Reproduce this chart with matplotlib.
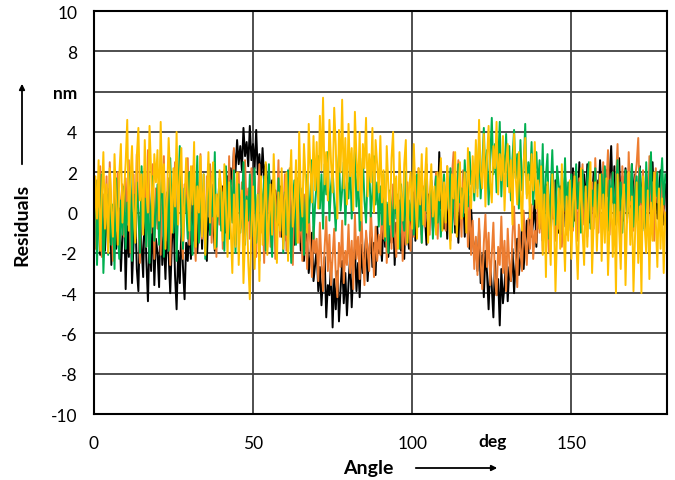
import numpy as np
from matplotlib import pyplot as plt

# residuals, one value every 0.5 deg (0 .. 179.5)
black = [
    -0.5, 0.8, -1.2, 0.3, -2.1, 0.9, -0.8, -1.9, 0.4, -1.5, 1.0, -2.6, -0.3, 0.6, -1.8, -0.9, 0.2, -2.9, -1.1, 0.5,
    -3.8, -0.6, -2.2, 0.7, -3.5, -1.4, 0.3, -2.8, -3.9, -0.2, -1.7, -3.2, 0.9, -2.4, -4.4, -1.0, -2.9, 0.1, -3.6, -1.3,
    -2.0, -3.7, 0.4, -2.6, -1.2, -3.3, -0.5, -2.1, -4.0, -1.6, 0.2, -3.1, -4.8, -1.9, -3.5, -0.8, -2.7, -4.3, -1.5, -2.4,
    -0.6, -2.3, 0.8, -1.4, 1.2, -2.0, -0.3, 0.5, -1.8, 1.1, -0.9, -2.4, 0.3, -1.1, 1.4, -0.4, -1.9, 0.7, -0.2, 1.0,
    -0.5, 1.3, 0.2, -1.0, 1.8, 0.6, 2.2, 1.4, 3.1, 2.0, 3.6, 2.4, 3.3, 2.1, 4.2, 2.8, 3.5, 2.3, 4.3, 2.6,
    3.4, 2.2, 4.1, 1.9, 2.9, 1.5, 3.2, 1.7, 2.4, 1.0, 2.0, 0.5, 1.6, -0.3, 1.1, 0.4, -0.6, 1.3, -1.2, 0.2,
    0.9, -1.4, 0.3, 1.2, -0.8, 0.6, -1.6, 0.1, -0.5, 1.0, -1.9, -0.2, -2.4, -0.9, -1.5, -3.0, -2.1, -1.0, -3.4, -2.6,
    -1.8, -3.9, -2.7, -4.6, -3.1, -2.2, -5.2, -3.6, -4.1, -2.5, -5.7, -3.3, -4.8, -2.9, -5.4, -3.8, -2.4, -4.5, -3.0, -5.1,
    -3.5, -2.2, -4.7, -2.8, -1.7, -3.9, -2.5, -4.2, -1.6, -3.0, -2.3, -1.2, -3.4, -2.0, -0.9, -2.7, -1.5, -3.1, -0.7, -2.0,
    -1.2, -2.4, -0.3, -1.7, 0.4, -2.2, -0.8, -1.5, 0.2, -2.6, -0.5, -1.3, 0.6, -1.9, -0.2, -2.3, 0.3, -1.0, -1.8, 0.1,
    -0.7, 1.0, -1.4, 0.4, -0.3, 1.3, -1.1, 0.6, -0.2, -1.6, 0.9, -0.5, 1.5, -0.9, 0.3, 2.0, -0.4, 3.0, 0.2, 1.1,
    -0.8, 0.7, -1.3, 1.2, 0.1, -0.6, 1.4, -1.0, 0.5, -1.5, 0.8, -0.2, 1.1, -1.2, 0.3, -0.7, -1.8, 0.2, -1.1, -2.2,
    -1.4, -2.9, -0.8, -3.5, -2.1, -4.2, -1.9, -3.0, -4.8, -2.6, -3.7, -5.2, -2.4, -4.1, -3.3, -5.6, -2.8, -4.5, -3.6, -2.2,
    -4.4, -2.7, -3.4, -1.8, -4.0, -2.5, -1.3, -3.1, -2.2, -0.6, -2.8, -1.5, -0.4, -2.0, 0.3, -1.2, -0.5, 0.6, -1.7, 0.2,
    -0.8, 1.1, -1.4, 0.5, 1.4, -0.6, 0.2, -1.2, 1.0, -0.3, 1.6, 0.0, -1.0, 1.3, 0.4, -0.7, 1.8, 0.1, -0.9, 1.2,
    0.6, 2.2, -0.4, 1.5, 0.3, 2.5, -0.8, 1.1, 1.9, 0.2, 2.4, -0.5, 1.3, 0.7, 2.0, -0.2, 1.6, 0.4, 2.6, 0.9,
    1.4, -0.3, 2.1, 0.8, 1.7, 3.3, 0.5, 2.3, -0.6, 1.2, 2.7, 0.1, 1.8, -0.4, 2.2, 0.9, 1.5, -0.7, 2.4, 0.6,
    1.9, -0.2, 1.1, 2.3, 0.4, 1.6, -0.8, 2.0, 0.7, 1.3, -0.5, 2.5, 0.2, 1.8, -0.3, 1.0, 2.1, 0.5, -0.6, 1.4,
]
orange = [
    0.4, -1.8, 1.6, -0.7, 2.3, -2.2, 0.9, -0.3, 1.8, -1.5, 2.5, 0.2, -2.4, 1.1, -0.9, 2.0, -1.9, 0.6, 1.4, -1.2,
    1.7, -0.6, 2.6, -2.0, 0.8, 1.9, -1.3, 2.9, 0.1, -2.5, 1.5, -0.4, 2.2, -1.7, 3.1, 0.5, -1.0, 2.4, -2.3, 1.2,
    -0.8, 2.1, -2.1, 0.9, 2.8, -1.4, 0.3, 1.7, -2.6, 1.0, -0.5, 2.5, -1.9, 0.6, 1.9, -1.1, -2.3, 1.4, 0.0, 2.7,
    -1.6, 0.8, 2.3, -0.9, -2.4, 1.5, 0.2, 2.9, -1.3, 0.7, -2.0, 1.8, -0.2, 2.4, -1.5, 0.4, 1.6, -2.2, 0.9, -0.6,
    1.3, -1.8, 2.1, 0.3, -1.1, 2.8, -0.4, 1.0, 3.2, -1.6, 0.6, 2.0, -0.8, 1.5, -2.0, 2.6, 0.1, 1.2, -1.3, 2.2,
    -0.3, 1.8, -2.2, 0.7, 2.4, -1.0, 0.2, -2.5, 1.3, -0.6, 2.1, -1.7, 0.5, 1.6, -2.3, 0.0, 2.6, -1.2, 0.9, -0.4,
    1.9, -1.9, 0.6, 2.2, -0.9, -2.6, 1.1, -0.2, 1.7, -1.5, 0.4, -2.4, 0.9, -1.1, -2.8, 0.2, -1.6, -3.2, -0.7, -2.0,
    -1.3, -3.4, -0.5, -2.5, -3.9, -1.7, -0.2, -2.9, -1.1, -3.6, -2.2, -0.8, -3.1, -4.2, -1.5, -2.7, -0.4, -3.5, -1.9, -2.6,
    -0.6, -3.0, -1.4, -3.8, -0.1, -2.3, -1.2, -3.3, 0.3, -2.0, -3.6, -0.9, -1.8, -2.9, 0.2, -1.5, -3.2, -0.7, -2.4, -1.1,
    -2.1, 0.4, -1.3, 1.2, -2.5, -0.5, 0.8, -1.8, 1.4, -0.9, -2.2, 0.6, -1.0, 1.1, -2.4, 0.1, -1.6, 1.5, -0.4, -1.9,
    0.9, -1.2, 1.8, -0.3, 2.2, 0.4, -1.5, 1.3, -0.7, 2.4, 0.1, -1.1, 1.6, 0.7, -0.5, 2.0, -1.3, 1.0, 2.5, -0.2,
    1.4, -0.9, 2.3, 0.2, -1.4, 1.9, 3.0, -0.6, 1.2, 2.6, 0.5, -1.2, 2.1, 0.0, 1.5, -1.7, 0.8, -2.1, -0.4, -2.8,
    -1.2, -3.1, -0.3, -2.4, -3.8, -1.5, -0.1, -2.7, -1.0, -3.6, -2.0, -0.5, -3.3, -4.1, -1.7, -2.6, -0.2, -3.0, -1.4, -3.9,
    -0.8, -2.5, -3.4, -1.1, 0.3, -2.2, -3.7, -0.6, -1.9, -2.9, 0.1, -1.4, -2.6, -0.3, -1.8, 0.4, -2.3, -0.9, -1.5, 0.6,
    -1.0, 0.8, -1.9, 0.2, 1.3, -0.7, -2.0, 0.9, -0.3, 1.5, -1.4, 0.4, -0.8, 1.1, -1.7, 0.0, 1.4, -1.1, 0.6, -0.5,
    1.2, -0.9, 2.0, 0.3, -1.4, 1.7, 0.5, 2.4, -0.6, 1.0, -1.2, 2.2, 0.1, 1.5, -0.8, 2.7, 0.6, -1.0, 1.8, 0.2,
    2.5, -0.4, 1.3, 3.1, -1.1, 0.8, 2.0, -0.7, 1.6, 3.4, 0.2, -1.3, 2.3, 0.9, 1.9, -0.5, 3.0, 0.4, 1.2, -0.9,
    1.7, 2.4, 3.7, 0.3, -1.0, 2.1, 0.7, 1.4, -0.6, 2.8, 0.0, 1.5, -1.4, 2.2, 0.5, 1.1, -0.8, 1.9, 0.2, -0.3,
]
green = [
    -0.5, 1.6, -2.6, 0.2, -1.3, 1.9, -3.0, -0.7, 0.9, -2.1, 1.2, -1.6, 0.4, -2.8, 1.7, -0.9, -2.3, 0.6, -1.1, 1.3,
    -1.8, 0.5, -0.6, 2.0, -2.4, 0.9, -1.2, 1.5, -0.1, -2.0, 2.3, -0.8, 0.7, -1.7, 1.1, -2.5, 0.3, 1.8, -1.4, 0.0,
    1.4, -1.6, 0.6, 2.2, -2.2, -0.3, 1.0, -1.9, 2.7, 0.1, -1.0, 1.6, -2.4, 0.8, 3.3, -0.7, -1.8, 1.2, 0.3, -1.3,
    2.0, -0.4, -2.1, 1.5, 0.4, 2.8, -1.5, 0.9, -0.6, 1.9, -2.3, 0.2, 2.4, -1.1, 1.3, -0.2, 3.0, -1.7, 0.5, 1.7,
    -0.9, 1.0, -1.9, 2.3, 0.0, -1.3, 1.6, -0.5, 2.1, -2.0, 0.7, 1.4, -1.0, 0.3, 2.5, -1.6, 0.8, -0.4, 1.9, -1.2,
    0.4, 2.2, -1.5, 0.9, -2.4, 1.3, -0.1, 1.8, -1.9, 0.6, 2.4, -0.8, -2.2, 1.1, 0.2, -1.4, 1.7, -0.6, 0.8, -2.0,
    1.0, -1.1, 2.1, -0.3, -2.5, 0.7, 1.6, -1.6, 0.3, 2.3, -0.9, 1.2, -2.1, 0.5, 1.9, -0.5, 0.9, 2.6, -1.3, 0.4,
    1.5, 2.8, 0.2, 1.9, -0.8, 2.4, 0.9, 3.0, -0.4, 1.3, 2.2, 0.5, -0.9, 1.8, 2.9, 0.1, 1.1, 2.5, -0.6, 1.6,
    0.7, 2.6, -0.3, 1.4, 3.1, 0.3, 2.0, -0.9, 1.2, 2.7, 0.6, -0.5, 1.9, 2.4, -0.2, 1.0, 2.8, 0.4, 1.5, -0.7,
    1.3, -0.6, 1.9, -1.4, 0.5, -2.0, 1.1, 0.2, -1.2, 1.7, -0.3, 0.9, -1.8, 1.4, 0.0, -0.9, 2.0, -1.5, 0.6, -0.4,
    1.5, -1.1, 0.4, 1.9, -0.7, 0.8, -1.5, 1.2, 0.1, 2.0, -0.9, 0.6, 1.6, -1.3, 0.3, 1.8, -0.5, 1.0, -1.2, 0.7,
    1.9, -0.4, 1.3, 0.2, 2.2, -1.0, 0.9, 1.6, -0.6, 2.4, 0.5, 1.2, -0.2, 2.6, 1.0, 0.3, 3.0, 1.4, 2.1, 0.6,
    2.8, 1.2, 3.6, 0.7, 2.3, 4.2, 1.5, 3.1, 0.4, 2.6, 4.7, 1.9, 3.4, 1.0, 2.5, 4.5, 0.8, 3.0, 2.0, 3.9,
    1.3, 3.3, 0.6, 2.7, 4.1, 1.7, 2.9, 0.2, 3.6, 1.1, 2.2, 4.4, 0.9, 2.5, 1.6, 3.5, 0.4, 2.0, 3.0, 1.2,
    2.6, 0.3, 3.4, -0.8, 1.8, 2.9, -1.3, 1.0, 3.1, 0.5, -0.6, 2.3, 1.4, -1.1, 2.0, 0.1, 2.7, -0.4, 1.5, 0.8,
    1.9, -0.7, 0.9, 2.4, 0.2, 1.5, -1.0, 2.1, 0.6, -0.3, 1.7, 2.5, -0.8, 1.1, 0.3, 2.2, -0.5, 1.4, 0.7, 1.9,
    -0.2, 2.3, 1.0, -0.9, 1.6, 0.4, 2.0, -0.6, 1.2, 2.6, 0.1, 1.5, -1.0, 0.8, 2.1, -0.3, 1.3, 0.6, 2.4, -0.7,
    1.1, 1.8, -0.4, 2.2, 0.5, 1.4, -0.9, 2.5, 0.2, 1.0, 3.0, -0.5, 1.6, 0.8, 2.0, -0.2, 1.3, 2.7, 0.4, 1.9,
]
yellow = [
    -1.4, 1.8, -0.3, 2.6, -1.9, 0.7, 3.0, -0.8, 1.4, -2.0, 2.2, 0.1, -1.2, 2.9, 0.5, -1.6, 1.9, 3.4, -0.5, 1.0,
    2.5, 4.6, -0.9, 1.7, 3.3, 0.2, -1.5, 2.8, 4.2, 0.6, 1.9, -1.1, 3.6, 1.2, 0.0, 4.3, 2.0, -0.7, 2.9, 1.5,
    3.1, -0.4, 4.5, 1.0, 2.4, -1.8, 0.8, 3.7, 1.6, -1.0, 2.2, 0.3, 4.0, -0.6, 1.8, 3.2, -1.4, 0.5, 2.7, 1.1,
    -0.9, 2.3, 0.4, 3.5, -1.7, 1.3, 0.0, 2.8, -1.2, 1.9, -2.1, 0.7, 3.0, -0.5, 1.6, 2.5, -1.8, 0.9, -0.2, 2.1,
    1.2, -1.4, 2.4, 0.3, -2.2, 1.5, -0.8, -3.0, 0.9, -1.7, 2.0, -2.6, -0.4, 1.1, -3.5, -1.2, 0.6, -2.4, -4.3, -0.7,
    1.3, -2.8, -0.5, 0.9, -3.4, 1.8, -1.6, 0.2, 2.5, -2.1, -0.3, 1.4, -1.1, 2.9, 0.4, -2.5, 1.0, -0.9, 2.2, -1.8,
    0.6, 2.0, -2.4, 1.2, 3.1, -0.7, 0.3, 2.6, -1.5, 4.0, 1.0, -0.2, 3.4, 1.7, -1.0, 4.4, 2.2, 0.5, 3.8, 1.1,
    3.5, 0.2, 4.8, 2.1, 5.7, 1.4, 3.0, 0.6, 4.6, 2.5, 1.0, 5.2, 3.3, -0.3, 4.1, 2.0, 5.6, 1.2, 3.7, 0.4,
    4.4, 1.8, 3.2, 0.1, 5.0, 2.7, 1.1, 4.0, -0.4, 3.4, 2.2, 4.7, 0.8, 2.9, 1.5, 4.2, 0.0, 3.6, 2.4, 1.0,
    3.8, 0.5, 2.1, -1.2, 3.3, 1.4, -0.6, 2.7, 4.0, 0.2, 1.8, -1.8, 3.0, 0.9, -0.4, 2.4, 3.6, -1.5, 1.2, 2.0,
    -0.8, 3.4, 1.0, -1.3, 2.2, 0.4, 2.9, -0.6, 1.6, 3.2, -1.5, 0.8, 2.4, -0.2, 1.3, -1.1, 2.0, 0.6, 2.7, -0.9,
    1.5, -0.5, 2.3, 0.1, -1.8, 1.9, 0.7, 3.0, -1.2, 1.1, 2.5, -0.3, 0.9, 2.0, -1.0, 3.2, 1.4, 0.2, 2.8, 1.0,
    3.6, 0.8, 4.6, 2.0, 1.2, 3.9, 0.3, 2.7, 4.3, 1.5, 0.5, 3.3, 2.2, 4.5, 0.9, 2.9, 1.6, 3.8, 0.1, 2.4,
    3.4, 1.0, 2.6, -0.6, 3.9, 1.8, 0.4, 3.0, 1.3, -0.9, 2.5, 3.7, 0.7, 1.9, -0.3, 2.9, 1.1, 3.5, 0.2, 1.6,
    -0.8, 2.3, -2.1, 0.9, -3.2, 1.5, -0.4, -2.6, 1.9, 0.2, -3.9, -1.0, 1.2, -1.8, 2.4, -0.6, -2.9, 0.8, -1.4, 1.6,
    -2.3, 0.5, 1.8, -1.2, -3.3, 0.0, 2.2, -0.9, -2.6, 1.3, -1.7, 0.7, 2.5, -3.0, -0.4, 1.5, -1.9, 0.3, 1.9, -2.4,
    0.9, -1.5, 1.7, -3.1, -0.6, 1.2, -2.2, 0.4, -4.0, 1.9, -0.9, -2.8, 0.6, 1.4, -3.6, -0.2, 2.0, -1.6, 0.8, -3.9,
    -1.1, 1.5, -2.5, 0.3, -4.0, 1.8, -0.7, -2.0, 1.1, -3.3, 0.5, -1.4, 2.0, -0.3, -2.7, 1.2, -1.8, 0.7, -3.0, 0.0,
]
angle = np.arange(len(black)) * 0.5

series = [(black, '#000000'), (orange, '#ED7D31'), (green, '#00B050'), (yellow, '#FFC000')]

plt.rcParams['font.family'] = ['Lato', 'DejaVu Sans']

fig = plt.figure(figsize=(6.75, 4.81), dpi=100)
ax = fig.add_axes([0.139, 0.137, 0.849, 0.838])

for vals, col in series:
    ax.plot(angle, vals, color=col, lw=1.4, zorder=3)

ax.set_xlim(0, 180)
ax.set_ylim(-10, 10)
ax.set_xticks([0, 50, 100, 150])
ax.set_yticks(np.arange(-10, 11, 2))
ylabels = [str(v) for v in range(-10, 11, 2)]
ylabels[8] = 'nm'
ax.set_yticklabels(ylabels)
ax.get_yticklabels()[8].set_fontweight('bold')
ax.tick_params(length=0, labelsize=12.5)
ax.tick_params(axis='x', pad=15)
ax.tick_params(axis='y', pad=12)

ax.grid(True, color='#404040', lw=1.3, zorder=1)
for s in ax.spines.values():
    s.set_color('#000000')
    s.set_linewidth(1.5)
    s.set_zorder(4)

# axis captions with arrows
fig.text(22 / 675, 1 - 225 / 481, 'Residuals', rotation=90, ha='center', va='center',
         fontsize=14, fontweight='bold')
fig.add_artist(plt.Annotation('', xy=(22 / 675, 1 - 82 / 481), xytext=(22 / 675, 1 - 168 / 481),
                              xycoords='figure fraction',
                              arrowprops=dict(arrowstyle='-|>', color='black', lw=1.3, mutation_scale=8)))
fig.text(368 / 675, 1 - 469 / 481, 'Angle', ha='center', va='center',
         fontsize=14, fontweight='bold')
fig.add_artist(plt.Annotation('', xy=(500 / 675, 1 - 469 / 481), xytext=(413 / 675, 1 - 469 / 481),
                              xycoords='figure fraction',
                              arrowprops=dict(arrowstyle='-|>', color='black', lw=1.3, mutation_scale=8)))
fig.text(493 / 675, 1 - 442 / 481, 'deg', ha='center', va='center',
         fontsize=12.5, fontweight='bold')

plt.savefig('out.png', dpi=100)
